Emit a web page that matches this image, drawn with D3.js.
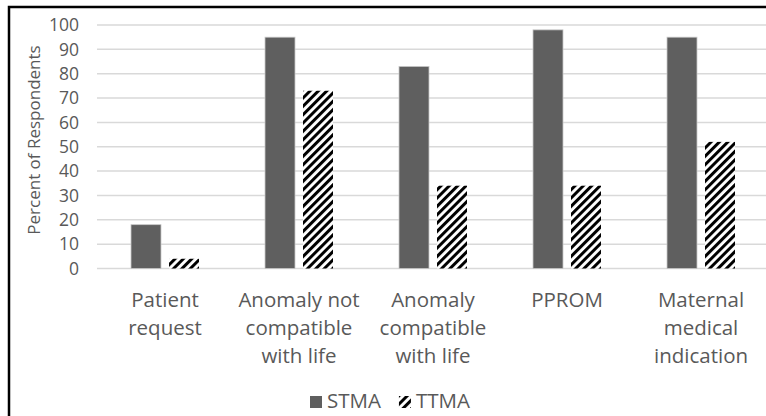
<!DOCTYPE html>
<html>
<head>
<meta charset="utf-8">
<script src="https://cdn.jsdelivr.net/npm/d3@7"></script>
<style>
  html, body { margin: 0; padding: 0; background: #fff; }
  svg { display: block; }
  text { font-family: "Open Sans", "Noto Sans", sans-serif; fill: #595959; }
</style>
</head>
<body>
<svg id="chart" width="766" height="416"></svg>
<script>
const categories = ["Patient request", "Anomaly not compatible with life", "Anomaly compatible with life", "PPROM", "Maternal medical indication"];
const categoryLines = [["Patient", "request"], ["Anomaly not", "compatible", "with life"], ["Anomaly", "compatible", "with life"], ["PPROM"], ["Maternal", "medical", "indication"]];
const seriesNames = ["STMA", "TTMA"];
const stma = [18, 95, 83, 98, 95];
const ttma = [4, 73, 34, 34, 52];
const yTicks = [0, 10, 20, 30, 40, 50, 60, 70, 80, 90, 100];
const yTitle = "Percent of Respondents";

const svg = d3.select("#chart");
const defs = svg.append("defs");
const pat = defs.append("pattern")
  .attr("id", "hatch")
  .attr("patternUnits", "userSpaceOnUse")
  .attr("width", 5.9).attr("height", 5.9)
  .attr("patternTransform", "rotate(45)");
pat.append("rect").attr("width", 5.9).attr("height", 5.9).attr("fill", "#fff");
pat.append("line").attr("x1", 1.5).attr("y1", 0).attr("x2", 1.5).attr("y2", 5.9)
  .attr("stroke", "#000").attr("stroke-width", 3);

// outer frame (extends beyond the visible area)
svg.append("rect").attr("x", 9).attr("y", 7).attr("width", 820).attr("height", 460)
  .attr("fill", "none").attr("stroke", "#000").attr("stroke-width", 2.5);

const plotLeft = 98, plotRight = 768, plotTop = 25, plotBottom = 268.5;
const y = d3.scaleLinear().domain([0, 100]).range([plotBottom, plotTop]);
const x0 = d3.scaleBand().domain(categories).range([plotLeft, plotRight]).padding(0);
const groupW = 68;
const x1 = d3.scaleBand().domain(seriesNames)
  .range([x0.bandwidth() / 2 - groupW / 2, x0.bandwidth() / 2 + groupW / 2])
  .paddingInner(0.2105).paddingOuter(0);

// gridlines
svg.append("g").selectAll("line").data(yTicks).join("line")
  .attr("x1", plotLeft - 1).attr("x2", 766)
  .attr("y1", d => y(d)).attr("y2", d => y(d))
  .attr("stroke", "#d9d9d9").attr("stroke-width", 1.5);

// y tick labels
svg.append("g").selectAll("text").data(yTicks).join("text")
  .attr("x", 79).attr("y", d => y(d)).attr("dy", "0.36em")
  .attr("text-anchor", "end").attr("font-size", 17.5)
  .text(d => d);

// y title
svg.append("text")
  .attr("transform", "translate(40,140) rotate(-90)")
  .attr("text-anchor", "middle").attr("font-size", 17)
  .text(yTitle);

// bars
const data = categories.map((c, i) => ({ c, vals: [{ s: "STMA", v: stma[i] }, { s: "TTMA", v: ttma[i] }] }));
const g = svg.append("g").selectAll("g").data(data).join("g")
  .attr("transform", d => `translate(${x0(d.c)},0)`);
g.selectAll("rect").data(d => d.vals).join("rect")
  .attr("x", d => x1(d.s)).attr("width", x1.bandwidth())
  .attr("y", d => y(d.v)).attr("height", d => y(0) - y(d.v))
  .attr("fill", d => d.s === "STMA" ? "#5f5f5f" : "url(#hatch)")
  .attr("stroke", d => d.s === "STMA" ? "#c8c8c8" : "none")
  .attr("stroke-width", 0.8);

// category labels
const lab = svg.append("g").selectAll("text").data(categories).join("text")
  .attr("text-anchor", "middle").attr("font-size", 20.5)
  .attr("x", d => x0(d) + x0.bandwidth() / 2).attr("y", 307);
lab.selectAll("tspan").data((d, i) => categoryLines[i]).join("tspan")
  .attr("x", function () { return this.parentNode.getAttribute("x"); })
  .attr("dy", (d, i) => i === 0 ? 0 : 28)
  .text(d => d);

// legend
const leg = svg.append("g");
const fs = 20.5;
const items = seriesNames.map(s => ({ s }));
let cx = 310;
items.forEach((it, i) => {
  const gi = leg.append("g");
  gi.append("rect").attr("x", cx).attr("y", 396).attr("width", 12).attr("height", 12)
    .attr("fill", it.s === "STMA" ? "#5f5f5f" : "url(#hatch)");
  const t = gi.append("text").attr("x", cx + 17).attr("y", 408).attr("font-size", fs).text(it.s);
  const w = t.node().getComputedTextLength();
  cx = cx + 17 + w + 18;
});
</script>
</body>
</html>
